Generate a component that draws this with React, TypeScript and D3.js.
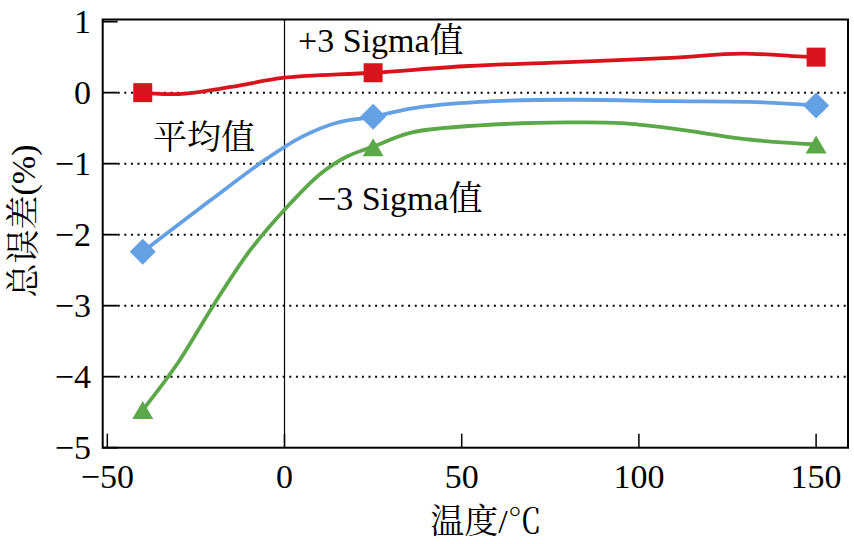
import React from "react";
import * as d3 from "d3";

// Tick values
const X_TICKS = [-50, 0, 50, 100, 150];
const Y_TICKS = [1, 0, -1, -2, -3, -4, -5];
const GRID_Y = [0, -1, -2, -3, -4];

// Marker data (temperature °C, total error %)
const MARKER_X = [-40, 25, 150];
const UPPER_MARKERS = [0.0, 0.28, 0.5];
const MEAN_MARKERS = [-2.24, -0.34, -0.18];
const LOWER_MARKERS = [-4.47, -0.77, -0.73];

// Smoothed curve points
const UPPER_CURVE_X = [-40, -30, -15, 0, 25, 52, 80, 109, 129, 145, 150];
const UPPER_CURVE_Y = [0.0, -0.02, 0.08, 0.21, 0.28, 0.375, 0.43, 0.49, 0.55, 0.51, 0.5];

const MEAN_CURVE_X = [-40, -21, -5, 5, 15, 25, 36, 55, 81, 109, 131, 150];
const MEAN_CURVE_Y = [-2.24, -1.52, -0.93, -0.62, -0.42, -0.34, -0.22, -0.13, -0.1, -0.12, -0.13, -0.18];

const LOWER_CURVE_X = [-40, -30, -20, -10, 0, 10, 17.6, 25, 36, 55, 80, 95, 110, 131, 150];
const LOWER_CURVE_Y = [-4.47, -3.8, -2.99, -2.24, -1.65, -1.15, -0.9, -0.76, -0.56, -0.46, -0.42, -0.43, -0.51, -0.66, -0.73];

const RED = "#d7141c";
const BLUE = "#63a0e4";
const GREEN = "#5aa847";

const FONT = "Liberation Serif, Noto Serif CJK SC, serif";

export default function App() {
  const W = 854;
  const H = 544;
  const left = 102.7;
  const right = 848;
  const top = 19.5;
  const bottom = 447.7;

  const x = d3.scaleLinear().domain([-51.3, 159]).range([left, right]);
  const y = d3.scaleLinear().domain([-5, 1.03]).range([bottom, top]);

  const line = d3
    .line<[number, number]>()
    .x((d) => x(d[0]))
    .y((d) => y(d[1]))
    .curve(d3.curveCatmullRom.alpha(0.5));

  const zip = (xs: number[], ys: number[]) => xs.map((v, i) => [v, ys[i]] as [number, number]);

  const series = [
    { color: RED, curve: zip(UPPER_CURVE_X, UPPER_CURVE_Y), markers: zip(MARKER_X, UPPER_MARKERS), shape: "square" },
    { color: BLUE, curve: zip(MEAN_CURVE_X, MEAN_CURVE_Y), markers: zip(MARKER_X, MEAN_MARKERS), shape: "diamond" },
    { color: GREEN, curve: zip(LOWER_CURVE_X, LOWER_CURVE_Y), markers: zip(MARKER_X, LOWER_MARKERS), shape: "triangle" },
  ];

  const marker = (shape: string, cx: number, cy: number, color: string, key: string) => {
    if (shape === "square") {
      const s = 19;
      return <rect key={key} x={cx - s / 2} y={cy - s / 2} width={s} height={s} fill={color} />;
    }
    if (shape === "diamond") {
      const r = 13;
      return (
        <path key={key} d={`M${cx},${cy - r}L${cx + r},${cy}L${cx},${cy + r}L${cx - r},${cy}Z`} fill={color} />
      );
    }
    const w = 21;
    const h = 18;
    return (
      <path
        key={key}
        d={`M${cx},${cy - h / 2}L${cx + w / 2},${cy + h / 2}L${cx - w / 2},${cy + h / 2}Z`}
        fill={color}
      />
    );
  };

  return (
    <svg width={W} height={H} style={{ position: "absolute", left: 0, top: 0, background: "#fff" }}>
      <rect x={0} y={0} width={W} height={H} fill="#fff" />
      {/* grid lines */}
      {GRID_Y.map((v) => (
        <line
          key={"g" + v}
          x1={left + 15}
          x2={right}
          y1={y(v)}
          y2={y(v)}
          stroke="#000"
          strokeWidth={2}
          strokeDasharray="2,4.6"
        />
      ))}
      {/* left ticks */}
      {Y_TICKS.map((v) => (
        <line key={"yt" + v} x1={left} x2={left + 15} y1={y(v)} y2={y(v)} stroke="#000" strokeWidth={1.8} />
      ))}
      {/* bottom ticks */}
      {X_TICKS.map((v) => (
        <line key={"xt" + v} x1={x(v)} x2={x(v)} y1={bottom} y2={bottom - 14} stroke="#000" strokeWidth={1.5} />
      ))}
      {/* zero vertical line */}
      <line x1={x(0)} x2={x(0)} y1={top} y2={bottom} stroke="#000" strokeWidth={1.2} />
      {/* frame */}
      <rect x={left} y={top} width={right - left} height={bottom - top} fill="none" stroke="#000" strokeWidth={2} />

      {/* series */}
      {series.map((s, i) => (
        <path key={"l" + i} d={line(s.curve) || ""} fill="none" stroke={s.color} strokeWidth={3.8} />
      ))}
      {series.map((s, i) =>
        s.markers.map((m, j) => marker(s.shape, x(m[0]), y(m[1]), s.color, `m${i}-${j}`))
      )}

      <g fontFamily={FONT} fontSize={34} fill="#000">
        {/* y tick labels */}
        {Y_TICKS.map((v) => (
          <text key={"yl" + v} x={91} y={y(v) + 11} textAnchor="end">
            {v < 0 ? "\u2212" + Math.abs(v) : String(v)}
          </text>
        ))}
        {/* x tick labels */}
        {X_TICKS.map((v) => (
          <text key={"xl" + v} x={x(v)} y={488} textAnchor="middle">
            {v < 0 ? "\u2212" + Math.abs(v) : String(v)}
          </text>
        ))}

        {/* axis titles */}
        <text x={486} y={533} textAnchor="middle">
          温度/℃
        </text>
        <text transform="translate(35,221) rotate(-90)" textAnchor="middle">
          总误差(%)
        </text>

        {/* annotations */}
        <text x={298} y={51.5}>
          +3 Sigma值
        </text>
        <text x={153} y={149}>
          平均值
        </text>
        <text x={317} y={210}>
          {"\u22123 Sigma值"}
        </text>
      </g>
    </svg>
  );
}
